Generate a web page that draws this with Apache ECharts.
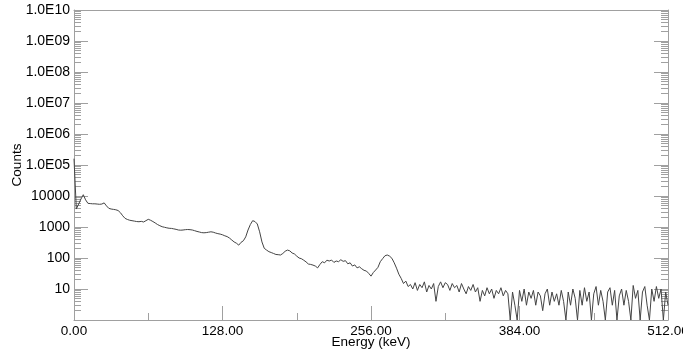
<!DOCTYPE html>
<html>
<head>
<meta charset="utf-8">
<script src="https://cdn.jsdelivr.net/npm/echarts@6/dist/echarts.min.js"></script>
<style>html,body{margin:0;padding:0;background:#fff}#c{width:696px;height:354px}</style>
</head>
<body>
<div id="c"></div>
<script>
// Channel width of the spectrum (keV per channel)
const channelWidthKeV = 2;
// Counts per channel, channel 0 = 0 keV
const counts = [
  160000, 3800, 5500, 8000, 11000, 7500, 5800, 5700, 5600, 5600,
  5500, 5400, 5500, 6000, 4800, 4000, 3800, 3700, 3600, 3400,
  2900, 2300, 1900, 1750, 1650, 1600, 1550, 1500, 1480, 1520,
  1450, 1600, 1770, 1650, 1500, 1350, 1200, 1100, 1020, 980,
  940, 910, 900, 870, 840, 800, 790, 800, 820, 830,
  820, 800, 760, 720, 690, 660, 650, 660, 680, 700,
  680, 640, 610, 590, 560, 520, 490, 440, 380, 330,
  300, 260, 320, 360, 480, 800, 1200, 1600, 1500, 1250,
  700, 330, 205, 180, 160, 150, 140, 130, 128, 125,
  140, 165, 180, 170, 145, 135, 115, 100, 95, 85,
  75, 64, 62, 59, 55, 48, 62, 76, 70, 85,
  80, 86, 72, 80, 76, 88, 78, 82, 65, 70,
  55, 60, 48, 52, 45, 40, 38, 32, 26, 34,
  41, 50, 76, 95, 118, 125, 115, 98, 70, 47,
  30, 22, 15, 18, 12, 14, 10, 16, 9, 14,
  11, 17, 8, 13, 10, 15, 4, 12, 17, 11,
  16, 14, 9, 15, 11, 13, 8, 15, 10, 7,
  12, 9, 14, 8, 11, 4, 9, 6, 11, 7,
  10, 5, 9, 7, 11, 6, 9, 7, 1, 8,
  3, 1, 9, 4, 10, 3, 8, 5, 9, 3,
  8, 6, 2, 7, 10, 3, 8, 4, 7, 3,
  9, 4, 1, 8, 3, 10, 5, 1, 9, 3,
  11, 4, 8, 1, 7, 12, 3, 9, 4, 1,
  8, 11, 3, 9, 1, 6, 10, 3, 9, 4,
  1, 13, 5, 9, 1, 8, 12, 3, 1, 10,
  4, 12, 5, 10, 1, 8, 3
];
const xTickValues = [0, 128, 256, 384, 512];
const xMinorTickValues = [64, 192, 320, 448];
const yMin = 1, yMax = 1e10;

const seriesData = counts.map((c, i) => [i * channelWidthKeV, c]);

const decades = [];
for (let n = 0; n <= 10; n++) decades.push(n);
const minorDecadeTicks = [];
for (let n = 0; n < 10; n++) for (let k = 2; k <= 9; k++) minorDecadeTicks.push(n + Math.log10(k));

const axisGray = '#a0a0a0';
const font = 'Liberation Sans, Arial, sans-serif';

function yLabel(v) {
  const e = Math.round(Math.log10(v));
  if (e <= 0) return '';
  if (e >= 5) return '1.0E' + (e < 10 ? '0' + e : '' + e);
  return String(Math.pow(10, e));
}

const chart = echarts.init(document.getElementById('c'), null, {renderer: 'canvas'});
chart.setOption({
  animation: false,
  backgroundColor: '#fff',
  grid: {left: 74, right: 28, top: 10, bottom: 34, containLabel: false, outerBoundsMode: 'none'},
  xAxis: [
    {
      type: 'value', min: 0, max: 512, interval: 128, position: 'bottom',
      axisLine: {show: true, onZero: false, lineStyle: {color: axisGray, width: 1}},
      axisTick: {show: true, inside: true, length: 14, lineStyle: {color: axisGray}},
      axisLabel: {color: '#000', fontFamily: font, fontSize: 13.5, margin: 4,
        formatter: v => v.toFixed(2)},
      splitLine: {show: false},
      name: 'Energy (keV)', nameLocation: 'middle', nameGap: 15, nameMoveOverlap: false,
      nameTextStyle: {color: '#000', fontFamily: font, fontSize: 13.5}
    },
    {
      type: 'value', min: 0, max: 512, position: 'bottom',
      axisLine: {show: false, onZero: false},
      axisTick: {show: true, inside: true, length: 7, customValues: xMinorTickValues, lineStyle: {color: axisGray}},
      axisLabel: {show: false},
      splitLine: {show: false}
    },
    {
      type: 'value', min: 0, max: 512, position: 'top',
      axisLine: {show: true, onZero: false, lineStyle: {color: axisGray, width: 1}},
      axisTick: {show: false},
      axisLabel: {show: false},
      splitLine: {show: false}
    }
  ],
  yAxis: [
    {
      type: 'log', min: yMin, max: yMax, logBase: 10, interval: 1, splitNumber: 10, position: 'left',
      axisLine: {show: true, onZero: false, lineStyle: {color: axisGray, width: 1}},
      axisTick: {show: true, inside: true, length: 14, lineStyle: {color: axisGray}},
      axisLabel: {color: '#000', fontFamily: font, fontSize: 14, margin: 4, formatter: yLabel},
      splitLine: {show: false},
      name: 'Counts', nameLocation: 'middle', nameGap: 50, nameMoveOverlap: false,
      nameTextStyle: {color: '#000', fontFamily: font, fontSize: 13.5}
    },
    {
      type: 'value', min: 0, max: 10, position: 'left',
      axisLine: {show: false, onZero: false},
      axisTick: {show: true, inside: true, length: 7, customValues: minorDecadeTicks, lineStyle: {color: axisGray}},
      axisLabel: {show: false},
      splitLine: {show: false}
    },
    {
      type: 'value', min: 0, max: 10, position: 'right',
      axisLine: {show: true, onZero: false, lineStyle: {color: axisGray, width: 1}},
      axisTick: {show: true, inside: true, length: 14, customValues: decades, lineStyle: {color: axisGray}},
      axisLabel: {show: false},
      splitLine: {show: false}
    },
    {
      type: 'value', min: 0, max: 10, position: 'right',
      axisLine: {show: false, onZero: false},
      axisTick: {show: true, inside: true, length: 7, customValues: minorDecadeTicks, lineStyle: {color: axisGray}},
      axisLabel: {show: false},
      splitLine: {show: false}
    }
  ],
  graphic: [
    {type: 'rect', left: 683, top: 322, shape: {width: 13, height: 16}, style: {fill: '#fff'}, z: 100}
  ],
  series: [
    {
      type: 'line', xAxisIndex: 0, yAxisIndex: 0, data: seriesData,
      showSymbol: false, symbol: 'none', smooth: false,
      lineStyle: {color: '#444444', width: 1},
      clip: true
    }
  ]
});
</script>
</body>
</html>
